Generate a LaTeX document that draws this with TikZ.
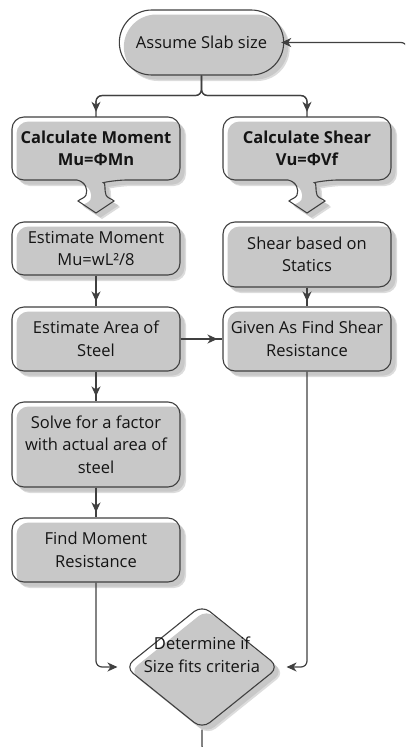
\documentclass[tikz,border=0pt]{standalone}
\usepackage{fontspec}
\setmainfont{Open Sans}
\usetikzlibrary{arrows.meta,shapes.misc,shapes.geometric}
\definecolor{greyc}{RGB}{200,200,200}
\definecolor{shadowc}{RGB}{220,220,220}
\definecolor{linec}{RGB}{64,64,64}
\definecolor{txtc}{RGB}{20,20,20}
\newcommand\mysize{\fontsize{16.5pt}{22.5pt}\selectfont}
\tikzset{
 outl/.style={draw=linec, line width=1.1pt},
 layered/.style={outl,
   preaction={fill=shadowc, transform canvas={shift={(6pt,-6pt)}}},
   preaction={fill=white},
   preaction={fill=greyc, transform canvas={shift={(4.5pt,-4.5pt)}}}},
 proc/.style={layered, rectangle, rounded corners=12pt, minimum width=168pt, align=center, inner sep=2pt, text=txtc, font=\mysize},
 term/.style={layered, rounded rectangle, minimum width=171pt, minimum height=65pt, text=txtc, align=center, font=\mysize},
 decis/.style={layered, diamond, rounded corners=10pt, minimum width=154pt, minimum height=124pt, inner sep=0pt},
 txt/.style={align=center, text=txtc, minimum width=168pt, minimum height=63pt, inner sep=0pt, font=\mysize\bfseries},
 line/.style={draw=linec, line width=1.2pt},
 tip/.style={-{Stealth[length=10pt,width=9pt,inset=3pt]}},
 arr/.style={line, rounded corners=6pt, postaction={draw=linec, line width=1.2pt, tip, shorten >=5pt}},
 arrg/.style={line, rounded corners=6pt, tip, shorten >=7pt},
 calloutp/.style={insert path={(0,-63) [rounded corners=12pt] -- (84,-63) -- (84,0) -- (19,0) [sharp corners] .. controls (10,2) and (8,10) .. (10,15) .. controls (11,18) and (16,19) .. (18,21) -- (0,33) -- (-18,21) .. controls (-16,19) and (-11,18) .. (-10,15) .. controls (-8,10) and (-10,2) .. (-19,0) [rounded corners=12pt] -- (-84,0) -- (-84,-63) -- cycle}},
 callout/.pic={
   \fill[shadowc, shift={(6,6)}, calloutp];
   \fill[white, calloutp];
   \fill[greyc, shift={(4.5,4.5)}, calloutp];
   \draw[outl, calloutp];
 }
}
\begin{document}
\begin{tikzpicture}[x=1pt,y=-1pt]
\useasboundingbox (0,0) rectangle (405,747);
\clip (0,0) rectangle (405,747);
% shapes
\node[term] (assume) at (201.5,42.5) {Assume Slab size};
\pic at (96,180) {callout};
\pic at (307,180) {callout};
\node[txt] (c1) at (96,148.5) {Calculate Moment\\Mu=ΦMn};
\node[txt] (c2) at (307,148.5) {Calculate Shear\\Vu=ΦVf};
\node[proc, minimum height=53pt] (b2) at (96,248.5) {Estimate Moment\\Mu=wL²/8};
\node[proc, minimum height=65pt] (r2) at (307,254.5) {Shear based on\\Statics};
\node[proc, minimum height=64pt] (b3) at (96,339) {Estimate Area of\\Steel};
\node[proc, minimum height=64pt] (r3) at (307,339) {Given As Find Shear\\Resistance};
\node[proc, minimum height=85pt] (b4) at (96,444.5) {Solve for a factor\\with actual area of\\steel};
\node[proc, minimum height=64pt] (b5) at (96,550) {Find Moment\\Resistance};
\node[decis] (dec) at (202,667) {};
\node[align=center, text=txtc, inner sep=0pt, font=\mysize] (dtext) at (202,655) {Determine if\\Size fits criteria};
% connectors
\draw[arr] (assume.south) -- ++(0,20) -| (c1.north);
\draw[arr] (assume.south) -- ++(0,20) -| (c2.north);
\draw[arr] (b2.south) -- (b3.north);
\draw[arr] (r2.south) -- (r3.north);
\draw[arr] (b3.south) -- (b4.north);
\draw[arr] (b4.south) -- (b5.north);
\draw[arr] (b3.east) -- (r3.west);
\draw[arrg] (b5.south) |- (dec.west);
\draw[arrg] (r3.south) |- (dec.east);
\coordinate (lb) at (202,752);
\coordinate (rb) at (407,752);
\draw[line, rounded corners=6pt, tip, shorten >=-3pt] (dec.south) -- (lb) -- (rb) |- (assume.east);
\end{tikzpicture}
\end{document}
